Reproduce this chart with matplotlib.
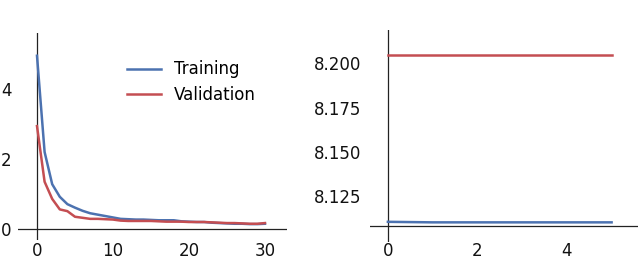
import matplotlib
matplotlib.use("Agg")
import matplotlib.pyplot as plt
import numpy as np

epochs_left = list(range(31))
train_loss = [4.95, 2.2, 1.28, 0.92, 0.71, 0.61, 0.52, 0.45, 0.41, 0.37,
              0.33, 0.29, 0.28, 0.27, 0.27, 0.26, 0.25, 0.25, 0.25, 0.22,
              0.21, 0.20, 0.20, 0.18, 0.17, 0.16, 0.15, 0.15, 0.14, 0.14, 0.15]
val_loss = [2.94, 1.35, 0.86, 0.56, 0.51, 0.35, 0.32, 0.29, 0.29, 0.28,
            0.27, 0.24, 0.23, 0.23, 0.23, 0.23, 0.22, 0.21, 0.21, 0.21,
            0.20, 0.20, 0.20, 0.19, 0.18, 0.17, 0.17, 0.16, 0.15, 0.15, 0.17]

epochs_right = [0, 1, 2, 3, 4, 5]
train_right = [8.1104, 8.1101, 8.1101, 8.1101, 8.1101, 8.1101]
val_right = [8.2047, 8.2047, 8.2047, 8.2047, 8.2047, 8.2047]

blue = "#4c72b0"
red = "#c44e52"

plt.rcParams['font.family'] = ['DejaVu Sans']
fig = plt.figure(figsize=(6.4, 2.6), dpi=100)

ax1 = fig.add_axes([18/640, 1-240/260, (287-18)/640, (240-33)/260])
ax2 = fig.add_axes([370/640, 1-242/260, (638-370)/640, (242-30)/260])

for ax in (ax1, ax2):
    for s in ax.spines.values():
        s.set_visible(False)
    ax.tick_params(length=0, labelsize=12, colors="#111111")
ax1.tick_params(axis="x", pad=1.5)
ax1.tick_params(axis="y", pad=4.5)
ax2.tick_params(axis="x", pad=0)
ax2.tick_params(axis="y", pad=6)

ax1.plot(epochs_left, train_loss, color=blue, lw=1.8, label="Training")
ax1.plot(epochs_left, val_loss, color=red, lw=1.8, label="Validation")
ax1.axhline(0, color="#222222", lw=0.9, zorder=0)
ax1.axvline(0, color="#222222", lw=0.9, zorder=0)
ax1.set_xlim(-2.5, 32.9)
ax1.set_ylim(-0.314, 5.6)
ax1.set_xticks([0, 10, 20, 30])
ax1.set_yticks([0, 2, 4])
ax1.legend(frameon=False, fontsize=12, loc="upper left",
           bbox_to_anchor=(0.382, 0.90), handlelength=2.0, handletextpad=0.8,
           labelspacing=0.45, borderaxespad=0)

ax2.plot(epochs_right, train_right, color=blue, lw=1.8)
ax2.plot(epochs_right, val_right, color=red, lw=1.8)
ax2.axhline(8.1082, color="#222222", lw=0.9, zorder=0)
ax2.axvline(0, color="#222222", lw=0.9, zorder=0)
ax2.set_xlim(-0.40, 5.59)
ax2.set_ylim(8.099, 8.2188)
ax2.set_xticks([0, 2, 4])
ax2.set_yticks([8.125, 8.150, 8.175, 8.200])
ax2.set_yticklabels(["8.125", "8.150", "8.175", "8.200"])

fig.savefig("out.png", dpi=100)
